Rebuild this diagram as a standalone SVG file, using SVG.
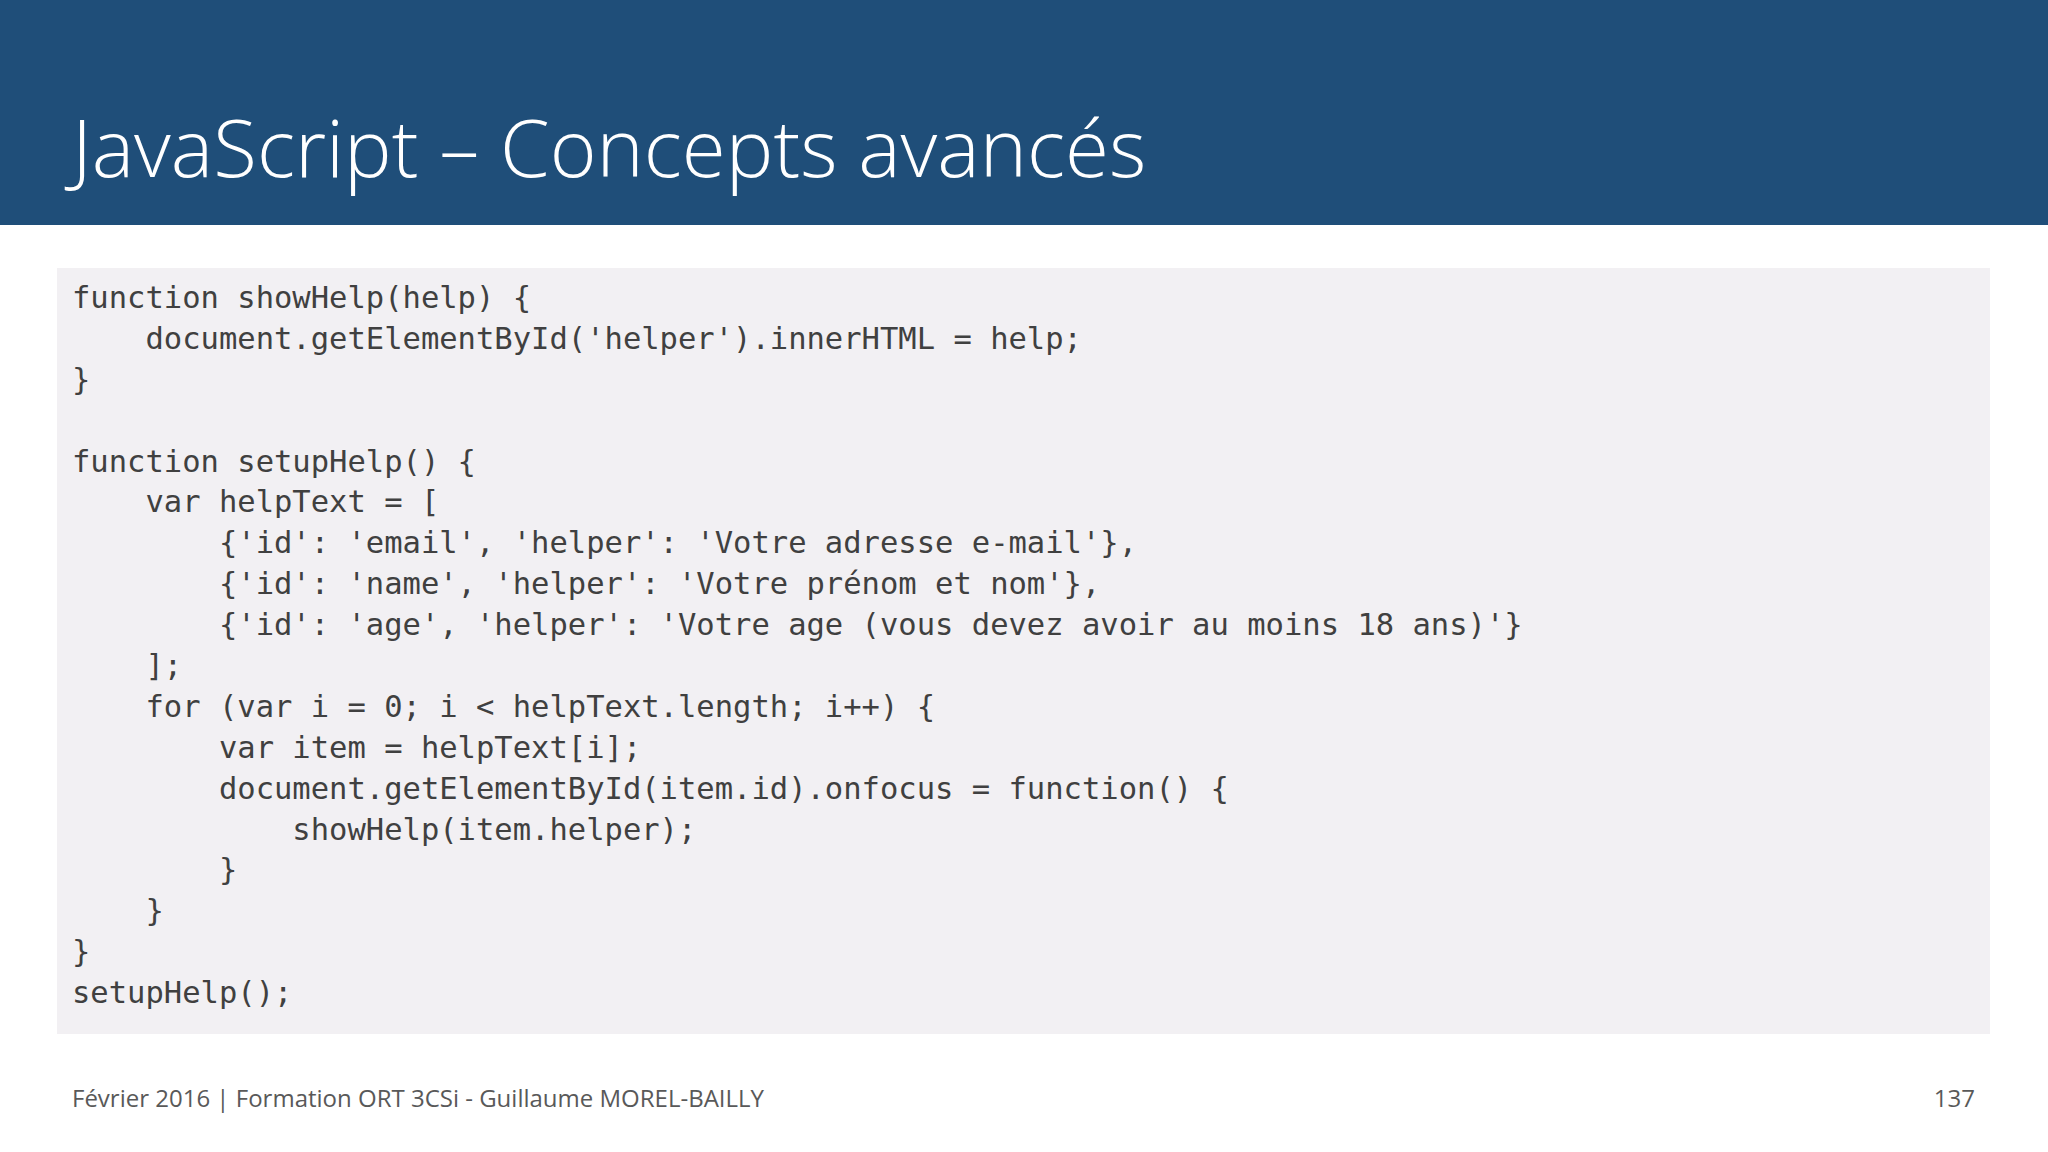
<svg xmlns="http://www.w3.org/2000/svg" width="2048" height="1152" viewBox="0 0 2048 1152">
<style>
.code{font-family:"DejaVu Sans Mono","Liberation Mono",monospace;font-size:30.5px;fill:#404040;white-space:pre}
.foot{font-family:"Open Sans","Noto Sans",sans-serif;font-size:24px;fill:#595959}
</style>
<rect width="2048" height="1152" fill="#ffffff"/>
<g id="header">
<rect x="0" y="0" width="2048" height="225" fill="#1F4E79"/>
<text x="72" y="177" font-family="Open Sans, Noto Sans, sans-serif" font-size="80" font-weight="300" fill="#ffffff">JavaScript – Concepts avancés</text>
</g>
<g id="code">
<rect x="57" y="268" width="1933" height="766" fill="#F2F0F3"/>
<text class="code" xml:space="preserve">
<tspan x="72" y="308">function showHelp(help) {</tspan>
<tspan x="72" y="349">    document.getElementById('helper').innerHTML = help;</tspan>
<tspan x="72" y="390">}</tspan>
<tspan x="72" y="472">function setupHelp() {</tspan>
<tspan x="72" y="512">    var helpText = [</tspan>
<tspan x="72" y="553">        {'id': 'email', 'helper': 'Votre adresse e-mail'},</tspan>
<tspan x="72" y="594">        {'id': 'name', 'helper': 'Votre prénom et nom'},</tspan>
<tspan x="72" y="635">        {'id': 'age', 'helper': 'Votre age (vous devez avoir au moins 18 ans)'}</tspan>
<tspan x="72" y="676">    ];</tspan>
<tspan x="72" y="717">    for (var i = 0; i &lt; helpText.length; i++) {</tspan>
<tspan x="72" y="758">        var item = helpText[i];</tspan>
<tspan x="72" y="799">        document.getElementById(item.id).onfocus = function() {</tspan>
<tspan x="72" y="840">            showHelp(item.helper);</tspan>
<tspan x="72" y="880">        }</tspan>
<tspan x="72" y="921">    }</tspan>
<tspan x="72" y="962">}</tspan>
<tspan x="72" y="1003">setupHelp();</tspan>
</text>
</g>
<g id="footer">
<text class="foot" x="72" y="1107">Février 2016   |   Formation ORT 3CSi - Guillaume MOREL-BAILLY</text>
<text class="foot" x="1975" y="1107" text-anchor="end">137</text>
</g>
</svg>
